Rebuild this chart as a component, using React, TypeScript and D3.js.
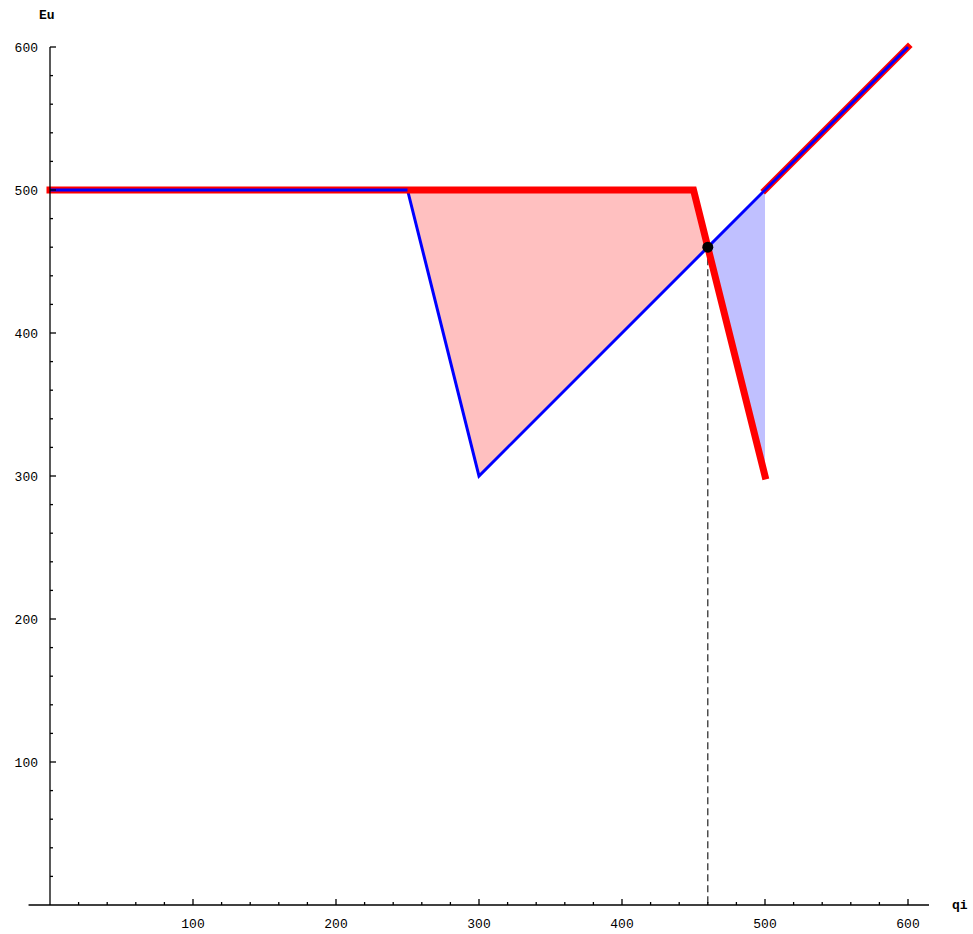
import React from "react";
import * as d3 from "d3";

// values
const redThick: [number, number][] = [[0, 500], [450, 500], [500, 300]];
const redUpper: [number, number][] = [[500, 500], [600, 600]];
const blueFlat: [number, number][] = [[0, 500], [250, 500]];
const blueCurve: [number, number][] = [[250, 500], [300, 300], [450, 450], [600, 600]];
const pinkRegion: [number, number][] = [[250, 500], [450, 500], [460, 460], [300, 300]];
const lavenderRegion: [number, number][] = [[460, 460], [500, 500], [500, 300]];
const crossing: [number, number] = [460, 460];
const majorTicks = [100, 200, 300, 400, 500, 600];
const minorTicks = d3.range(20, 601, 20).filter(d => d % 100 !== 0);

export default function App() {
  const W = 973,
    H = 934;

  const x = d3.scaleLinear().domain([0, 600]).range([50, 908]);
  const y = d3.scaleLinear().domain([0, 600]).range([905, 47]);

  const line = d3.line<[number, number]>()
    .x(d => x(d[0]))
    .y(d => y(d[1]));

  const area = (pts: [number, number][]) => line(pts) + "Z";

  const labelFont = { fontFamily: "Liberation Mono, monospace", fontSize: 13 };

  return (
    <svg width={W} height={H} style={{ position: "absolute", left: 0, top: 0, background: "#fff" }}>
      {/* shaded regions */}
      <path d={area(pinkRegion)} fill="#ffc0c0" />
      <path d={area(lavenderRegion)} fill="#c0c0ff" />

      {/* dashed drop line */}
      <line
        x1={x(crossing[0])}
        x2={x(crossing[0])}
        y1={y(crossing[1])}
        y2={y(0)}
        stroke="#222"
        strokeWidth={1.2}
        strokeDasharray="7,4"
      />

      {/* curves */}
      <path d={line(redUpper)!} fill="none" stroke="#ff0000" strokeWidth={6.5} strokeLinecap="square" />
      <path d={line(blueCurve)!} fill="none" stroke="#0000ff" strokeWidth={3} strokeLinejoin="miter" />
      <path d={line(redThick)!} fill="none" stroke="#ff0000" strokeWidth={7} strokeLinecap="square" strokeLinejoin="miter" />
      <path d={line(blueFlat)!} fill="none" stroke="#0000ff" strokeWidth={3} />

      <circle cx={x(crossing[0])} cy={y(crossing[1])} r={5.5} fill="#000" />

      {/* axes */}
      <g stroke="#000" strokeWidth={1.3} fill="none">
        <line x1={x(-15)} x2={x(614.7)} y1={y(0)} y2={y(0)} />
        <line x1={x(0)} x2={x(0)} y1={y(0)} y2={y(600)} />
        {majorTicks.map(d => (
          <g key={"M" + d}>
            <line x1={x(d)} x2={x(d)} y1={y(0)} y2={y(0) - 6} />
            <line x1={x(0)} x2={x(0) + 6} y1={y(d)} y2={y(d)} />
          </g>
        ))}
        {minorTicks.map(d => (
          <g key={"m" + d}>
            <line x1={x(d)} x2={x(d)} y1={y(0)} y2={y(0) - 3} />
            <line x1={x(0)} x2={x(0) + 3} y1={y(d)} y2={y(d)} />
          </g>
        ))}
      </g>

      {majorTicks.map(d => (
        <text key={"xl" + d} x={x(d)} y={y(0) + 23} textAnchor="middle" style={labelFont}>
          {d}
        </text>
      ))}
      {majorTicks.map(d => (
        <text key={"yl" + d} x={x(0) - 12} y={y(d)} dy="0.35em" textAnchor="end" style={labelFont}>
          {d}
        </text>
      ))}

      <text x={39} y={19} style={{ ...labelFont, fontWeight: "bold" }}>Eu</text>
      <text x={952} y={909} style={{ ...labelFont, fontWeight: "bold" }}>qi</text>
    </svg>
  );
}
